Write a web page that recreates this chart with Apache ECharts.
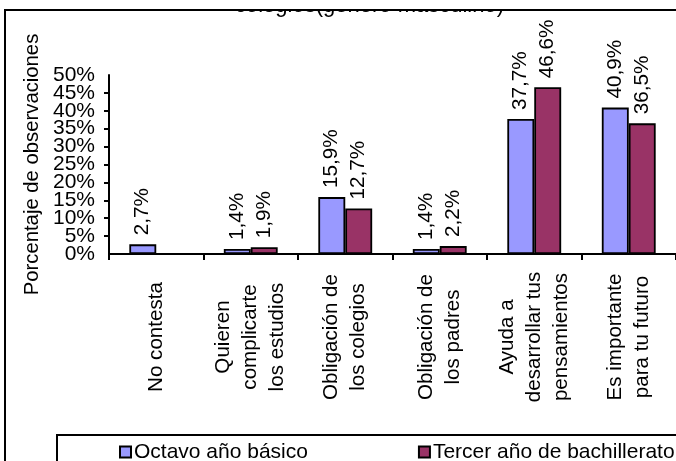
<!DOCTYPE html>
<html>
<head>
<meta charset="utf-8">
<script src="https://cdn.jsdelivr.net/npm/echarts@6/dist/echarts.min.js"></script>
<style>
html,body{margin:0;padding:0;background:#fff;}
#c{width:676px;height:461px;}
</style>
</head>
<body>
<div id="c"></div>
<script>
var categories = [
  'No contesta',
  'Quieren\ncomplicarte\nlos estudios',
  'Obligación de\nlos colegios',
  'Obligación de\nlos padres',
  'Ayuda a\ndesarrollar tus\npensamientos',
  'Es importante\npara tu futuro'
];
var octavo = [2.7, 1.4, 15.9, 1.4, 37.7, 40.9];
var tercero = [null, 1.9, 12.7, 2.2, 46.6, 36.5];
var seriesNames = ['Octavo año básico', 'Tercer año de bachillerato'];
var titleText = 'colegios(género masculino)';
var yMin = 0, yMax = 50, yStep = 5;

var FONT = 'Liberation Sans, Arial, sans-serif';
var chart = echarts.init(document.getElementById('c'), null, {renderer: 'canvas'});

function fmt(p) {
  if (p.value == null) return '';
  return p.value.toFixed(1).replace('.', ',') + '%';
}

var labelCfg = {
  show: true,
  position: 'top',
  rotate: 90,
  align: 'left',
  verticalAlign: 'middle',
  distance: 9,
  fontSize: 20.7,
  fontFamily: FONT,
  color: '#000',
  formatter: fmt
};

var yLabelStyle = {formatter: '{value}%', margin: 14, fontSize: 21, fontFamily: FONT, color: '#000', hideOverlap: false};

chart.setOption({
  animation: false,
  backgroundColor: '#fff',
  grid: {left: 109, top: 75, width: 572, height: 179, containLabel: false},
  legend: {
    data: seriesNames,
    left: 119,
    top: 440,
    padding: 0,
    itemWidth: 11,
    itemHeight: 11,
    itemGap: 110,
    icon: 'rect',
    textStyle: {fontSize: 21, fontFamily: FONT, color: '#000', lineHeight: 24, padding: [0, 0, 0, -2]},
    z: 20
  },
  xAxis: {
    type: 'category',
    data: categories,
    axisLine: {lineStyle: {color: '#000', width: 2}},
    axisTick: {show: true, length: 6, lineStyle: {color: '#000', width: 2}},
    axisLabel: {
      interval: 0,
      rotate: 90,
      align: 'center',
      verticalAlign: 'middle',
      margin: 83,
      fontSize: 20.6,
      lineHeight: 27,
      fontFamily: FONT,
      color: '#000'
    }
  },
  yAxis: [
    {
      type: 'value',
      position: 'left',
      min: yMin,
      max: yMax,
      interval: yStep,
      name: 'Porcentaje de observaciones',
      nameLocation: 'middle',
      nameGap: 60,
      nameRotate: 90,
      nameTextStyle: {fontSize: 20.3, fontFamily: FONT, color: '#000'},
      axisLine: {show: true, lineStyle: {color: '#000', width: 2}},
      axisTick: {show: true, inside: false, length: 5, lineStyle: {color: '#000', width: 2}},
      axisLabel: Object.assign({showMinLabel: false, showMaxLabel: false}, yLabelStyle),
      splitLine: {show: false}
    },
    {
      type: 'value',
      position: 'left',
      min: yMin,
      max: yMax,
      interval: yMax - yMin,
      axisLine: {show: false},
      axisTick: {show: false},
      axisLabel: Object.assign({showMinLabel: true, showMaxLabel: true}, yLabelStyle),
      splitLine: {show: false}
    }
  ],
  series: [
    {
      name: seriesNames[0],
      type: 'bar',
      data: octavo,
      barGap: '0%',
      barCategoryGap: '43%',
      itemStyle: {color: '#9999FF', borderColor: '#000', borderWidth: 1.8},
      label: labelCfg
    },
    {
      name: seriesNames[1],
      type: 'bar',
      data: tercero,
      barGap: '0%',
      barCategoryGap: '43%',
      itemStyle: {color: '#993366', borderColor: '#000', borderWidth: 1.8},
      label: labelCfg
    }
  ],
  graphic: [
    {
      type: 'text',
      left: 235,
      top: -5,
      z: 1,
      style: {text: titleText, fontSize: 22, fontFamily: FONT, fill: '#000'}
    },
    {
      type: 'rect',
      shape: {x: 0, y: 0, width: 676, height: 10},
      style: {fill: '#fff'},
      z: 2
    },
    {
      type: 'rect',
      shape: {x: 5, y: 10, width: 720, height: 520},
      style: {fill: 'none', stroke: '#000', lineWidth: 2},
      z: 3
    },
    {
      type: 'rect',
      shape: {x: 57, y: 435, width: 720, height: 100},
      style: {fill: '#fff', stroke: '#000', lineWidth: 2},
      z: 4
    }
  ]
});
</script>
</body>
</html>
